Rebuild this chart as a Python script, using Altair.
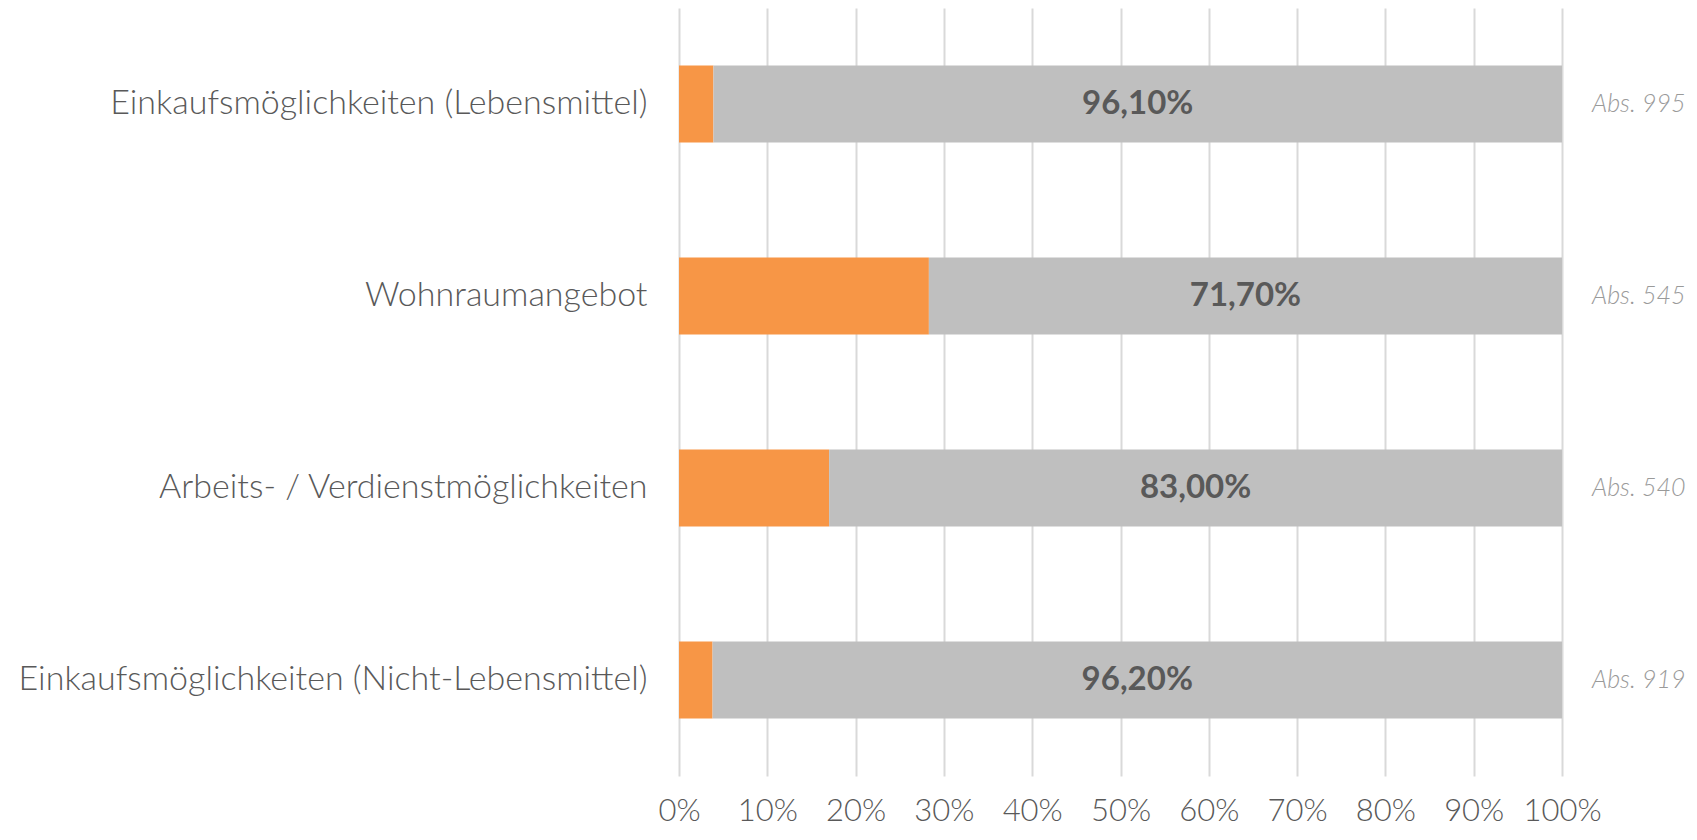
import altair as alt
import pandas as pd

categories = [
    "Einkaufsmöglichkeiten (Lebensmittel)",
    "Wohnraumangebot",
    "Arbeits- / Verdienstmöglichkeiten",
    "Einkaufsmöglichkeiten (Nicht-Lebensmittel)",
]
orange_values = [3.9, 28.3, 17.0, 3.8]
grey_values = [96.1, 71.7, 83.0, 96.2]
abs_labels = ["Abs. 995", "Abs. 545", "Abs. 540", "Abs. 919"]
x_ticks = [0, 10, 20, 30, 40, 50, 60, 70, 80, 90, 100]

rows = []
for c, o, g in zip(categories, orange_values, grey_values):
    rows.append({"cat": c, "series": "A", "value": o, "ord": 0})
    rows.append({"cat": c, "series": "B", "value": g, "ord": 1})
bars_df = pd.DataFrame(rows)
lab_df = pd.DataFrame({"cat": categories, "orange": orange_values,
                       "grey": grey_values, "abs": abs_labels})

FONT = "Lato"

bars = alt.Chart(bars_df).mark_bar().encode(
    x=alt.X("value:Q", stack="zero", title=None,
            scale=alt.Scale(domain=[0, 100], nice=False),
            axis=alt.Axis(values=x_ticks, labelExpr="datum.value + '%'",
                          grid=True, gridColor="#D9D9D9", gridWidth=2,
                          domain=False, ticks=False, labelFont=FONT,
                          labelFontSize=31, labelFontWeight=300,
                          labelColor="#595959", labelPadding=44,
                          labelBaseline="alphabetic", labelFlush=False)),
    y=alt.Y("cat:N", sort=categories, title=None,
            scale=alt.Scale(paddingInner=0.6, paddingOuter=0.3),
            axis=alt.Axis(domain=False, ticks=False, labelFont=FONT,
                          labelFontSize=34, labelFontWeight=300,
                          labelColor="#595959", labelPadding=32,
                          labelLimit=800)),
    color=alt.Color("series:N", legend=None,
                    scale=alt.Scale(domain=["A", "B"], range=["#F79646", "#BFBFBF"])),
    order=alt.Order("ord:Q"),
)

values = alt.Chart(lab_df).transform_calculate(
    mid="datum.orange + datum.grey / 2",
    txt="replace(format(datum.grey, '.2f'), '.', ',') + '%'",
).mark_text(font=FONT, fontSize=33, fontWeight="bold", color="#595959",
            baseline="middle", align="center").encode(
    x=alt.X("mid:Q"),
    y=alt.Y("cat:N", sort=categories),
    text="txt:N",
)

abs_text = alt.Chart(lab_df).mark_text(
    font=FONT, fontSize=25, fontStyle="italic", fontWeight=300,
    color="#9A9A9A", align="left", baseline="middle").encode(
    x=alt.value(913),
    y=alt.Y("cat:N", sort=categories),
    text="abs:N",
)

chart = alt.layer(bars, values, abs_text).properties(
    width=883, height=768,
    autosize=alt.AutoSizeParams(type="none"),
    padding={"left": 671, "top": 0, "right": 126, "bottom": 52},
).configure_view(stroke=None)

chart.save("out.html", embed_options={"renderer": "svg", "actions": False})
